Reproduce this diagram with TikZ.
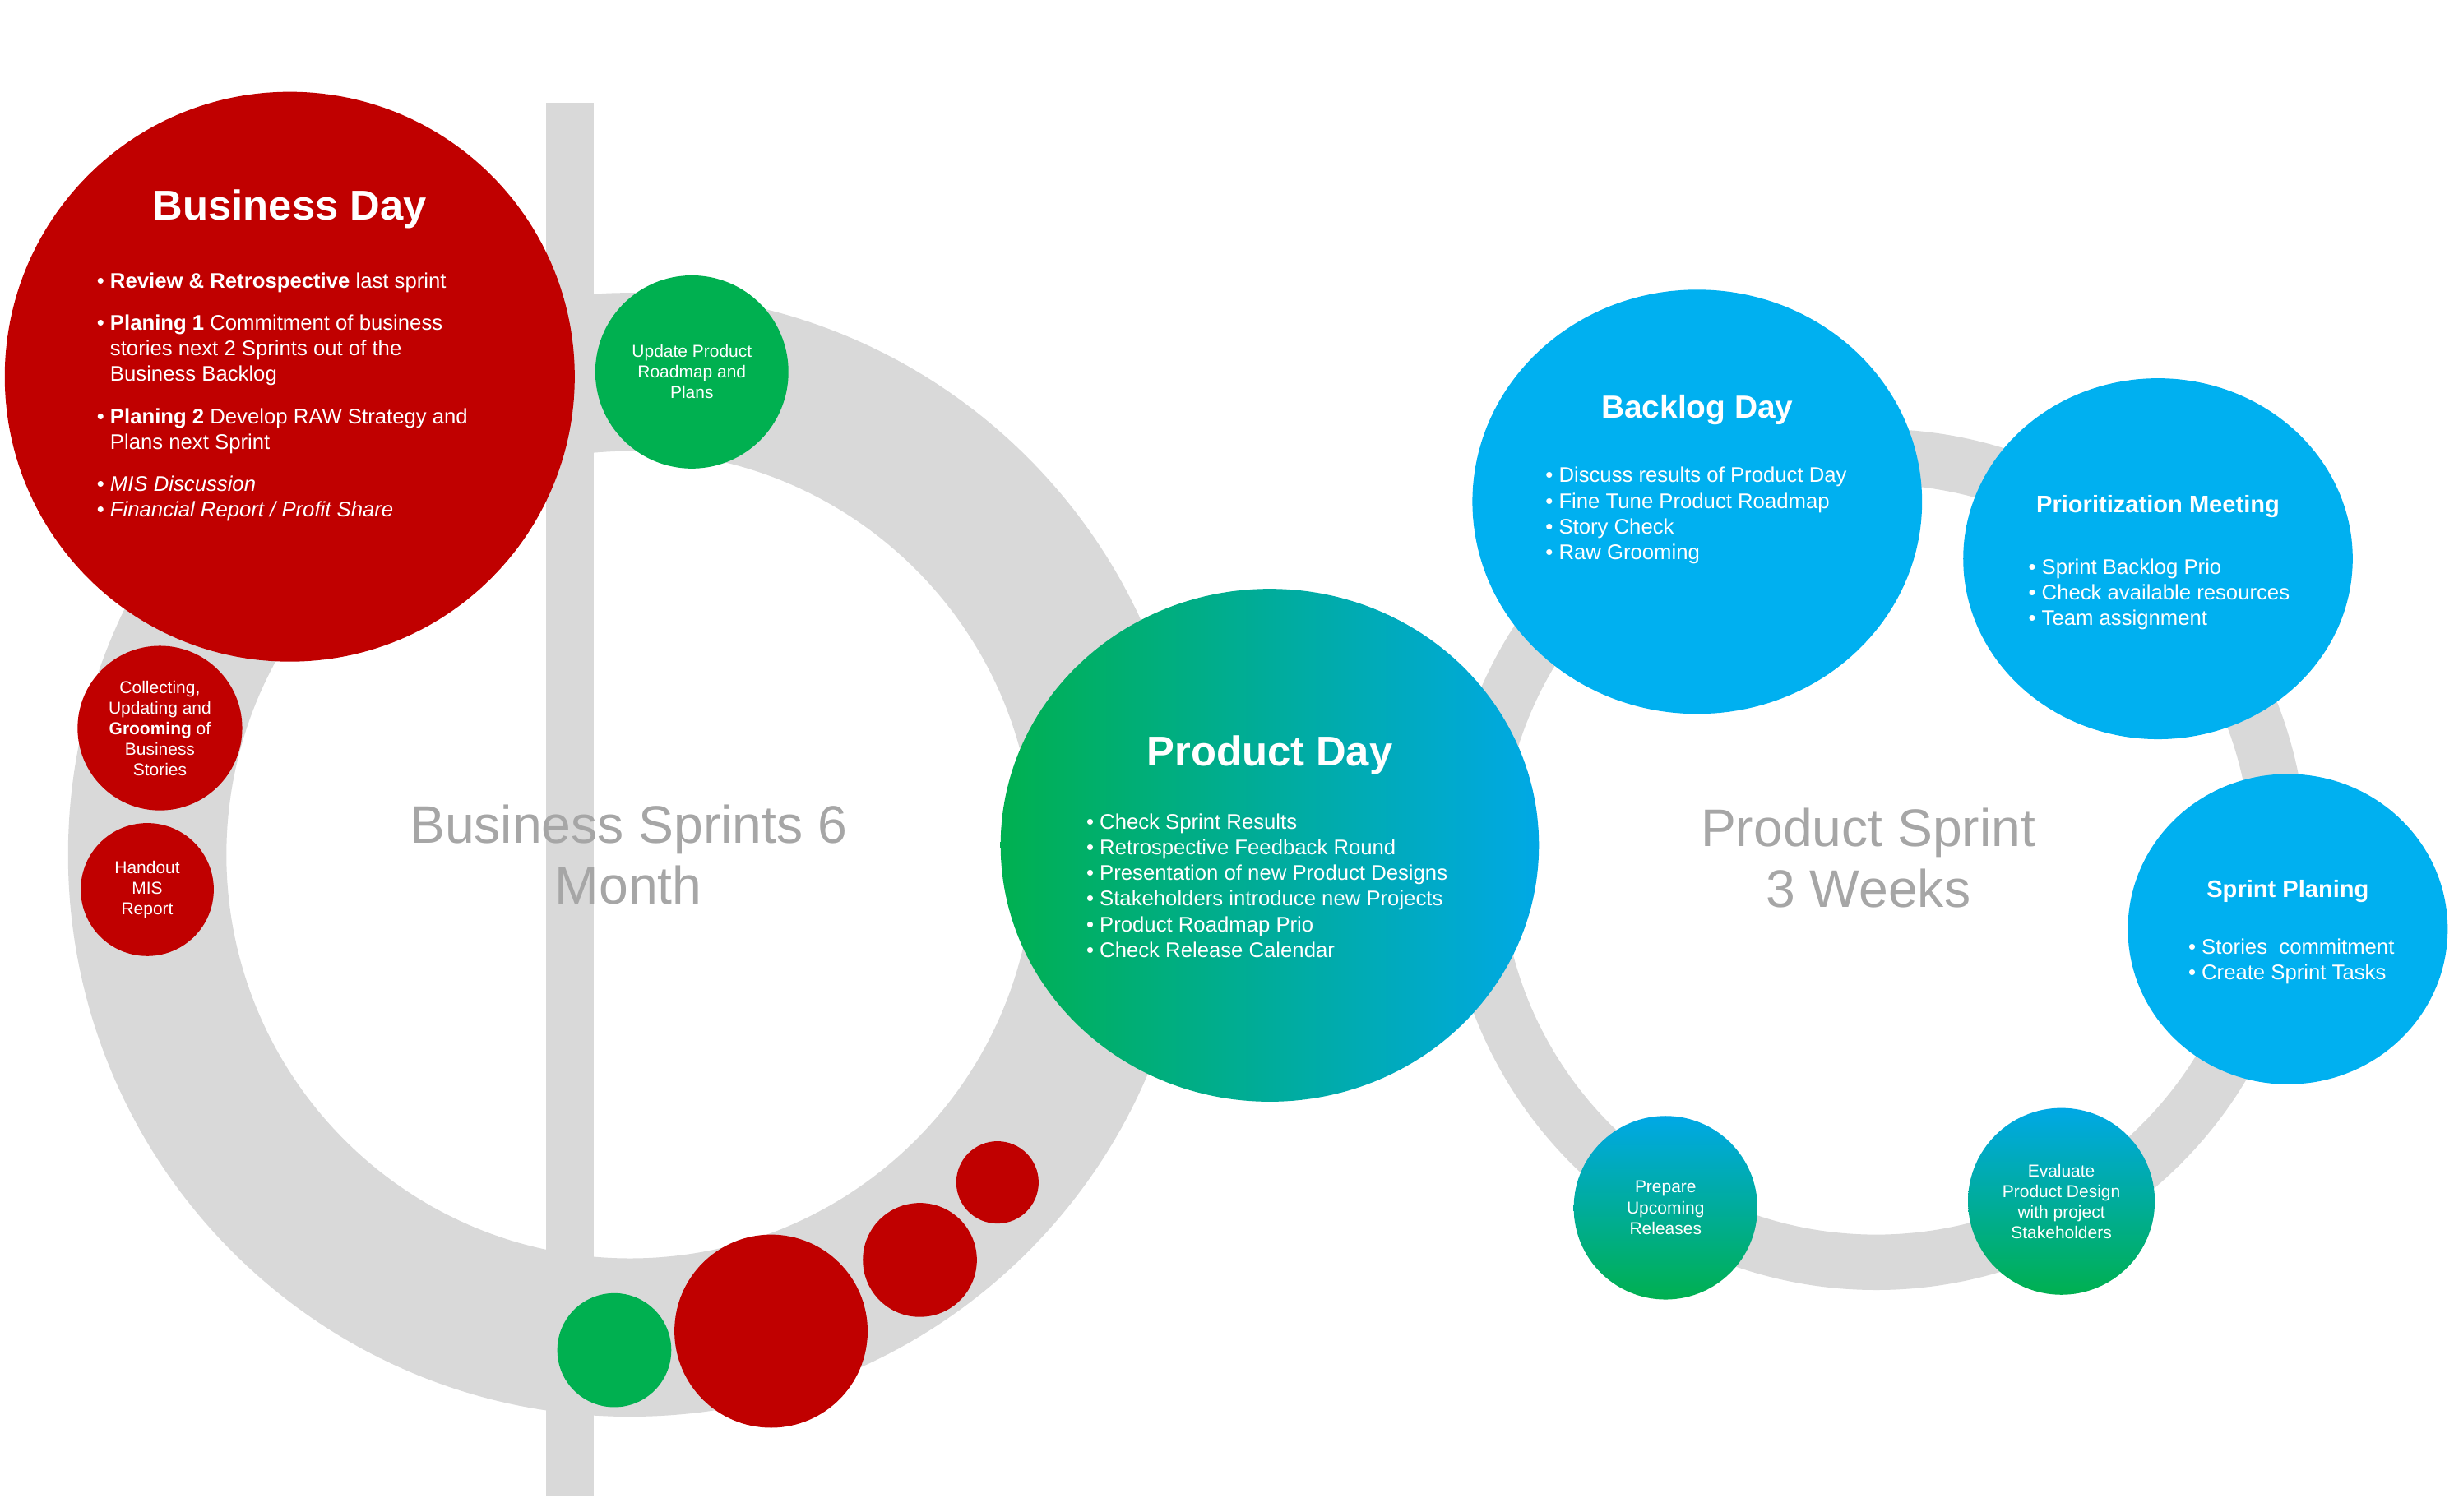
\documentclass[tikz,border=0pt]{standalone}
\usepackage{fontspec}
\setmainfont{Liberation Sans}
\usetikzlibrary{shadings}
\definecolor{bred}{HTML}{C00000}
\definecolor{bgreen}{HTML}{00B050}
\definecolor{bblue}{HTML}{00B0F0}
\definecolor{ring}{HTML}{D9D9D9}
\definecolor{gtxt}{HTML}{A6A6A6}
\newcommand{\bl}{\textbullet\ }
\newcommand{\ind}{\phantom{\textbullet\ }}
\begin{document}
\begin{tikzpicture}[x=0.02cm,y=-0.02cm,
  title/.style={text=white,font=\bfseries\fontsize{15}{18}\selectfont},
  body/.style={text=white,align=left,font=\fontsize{7.6}{9.2}\selectfont},
  small/.style={text=white,align=center,font=\fontsize{6.2}{7.4}\selectfont},
  big/.style={text=gtxt,align=center,font=\fontsize{19}{22}\selectfont}]
\useasboundingbox (0,0) rectangle (1550,955);
\fill[white] (0,0) rectangle (1550,955);
% grey bar and rings
\fill[ring] (345,65) rectangle (375,945);
\fill[ring,even odd rule] (398,540) circle (355) (398,540) circle (255);
\fill[ring,even odd rule] (1185,543) circle (272) (1185,543) circle (237);
% business
\fill[bred] (183,238) circle (180);
\node[title] (bd) at (183,132) {Business Day};
\node[body,anchor=north west] (bdt) at (55,166) {\bl\textbf{Review \& Retrospective} last sprint\\[6pt]
\bl\textbf{Planing 1} Commitment of business\\\ind stories next 2 Sprints out of the\\\ind Business Backlog\\[6pt]
\bl\textbf{Planing 2} Develop RAW Strategy and\\\ind Plans next Sprint\\[6pt]
\bl\textit{MIS Discussion}\\\bl\textit{Financial Report / Profit Share}};
\fill[bgreen] (437,235) circle (61);
\node[small] (up) at (437,235) {Update Product\\Roadmap and\\Plans};
\fill[bred] (101,460) circle (52);
\node[small] (col) at (101,460) {Collecting,\\Updating and\\\textbf{Grooming} of\\Business\\Stories};
\fill[bred] (93,562) circle (42);
\node[small] (ho) at (93,562) {Handout\\MIS\\Report};
\node[big] (bs) at (397,540) {Business Sprints 6\\Month};
\fill[bgreen] (388,853) circle (36);
\fill[bred] (487,841) circle (61);
\fill[bred] (581,796) circle (36);
\fill[bred] (630,747) circle (26);
% product day
\shade[shading=axis,shading angle=225,left color=bgreen,right color=cyan!70!blue!80!teal] (802,534) ellipse (170 and 162);
\shade[shading=axis,shading angle=45,top color=bgreen,bottom color=bgreen,middle color=bgreen!50!cyan!80!blue,opacity=0] (802,534) ellipse (170 and 162);
\node[title] (pd) at (802,477) {Product Day};
\node[body,anchor=north west] (pdt) at (680,508) {\bl Check Sprint Results\\\bl Retrospective Feedback Round\\\bl Presentation of new Product Designs\\\bl Stakeholders introduce new Projects\\\bl Product Roadmap Prio\\\bl Check Release Calendar};
% product sprint
\node[big] (ps) at (1180,542) {Product Sprint\\3 Weeks};
\fill[bblue] (1072,317) ellipse (142 and 134);
\node[title,font=\bfseries\fontsize{11.5}{14}\selectfont] (bk) at (1072,259) {Backlog Day};
\node[body,anchor=north west] (bkt) at (970,289) {\bl Discuss results of Product Day\\\bl Fine Tune Product Roadmap\\\bl Story Check\\\bl Raw Grooming};
\fill[bblue] (1363,353) ellipse (123 and 114);
\node[title,font=\bfseries\fontsize{8.6}{10}\selectfont] (pm) at (1363,320) {Prioritization Meeting};
\node[body,anchor=north west] (pmt) at (1275,347) {\bl Sprint Backlog Prio\\\bl Check available resources\\\bl Team assignment};
\fill[bblue] (1445,587) ellipse (101 and 98);
\node[title,font=\bfseries\fontsize{8.6}{10}\selectfont] (sp) at (1445,563) {Sprint Planing};
\node[body,anchor=north west] (spt) at (1376,587) {\bl Stories~ commitment\\\bl Create Sprint Tasks};
\shade[shading=axis,top color=cyan!70!blue!80!teal,bottom color=bgreen] (1302,759) circle (59);
\node[small] (ev) at (1302,759) {Evaluate\\Product Design\\with project\\Stakeholders};
\shade[shading=axis,top color=cyan!70!blue!80!teal,bottom color=bgreen] (1052,763) circle (58);
\node[small] (pr) at (1052,763) {Prepare\\Upcoming\\Releases};
\end{tikzpicture}
\end{document}
